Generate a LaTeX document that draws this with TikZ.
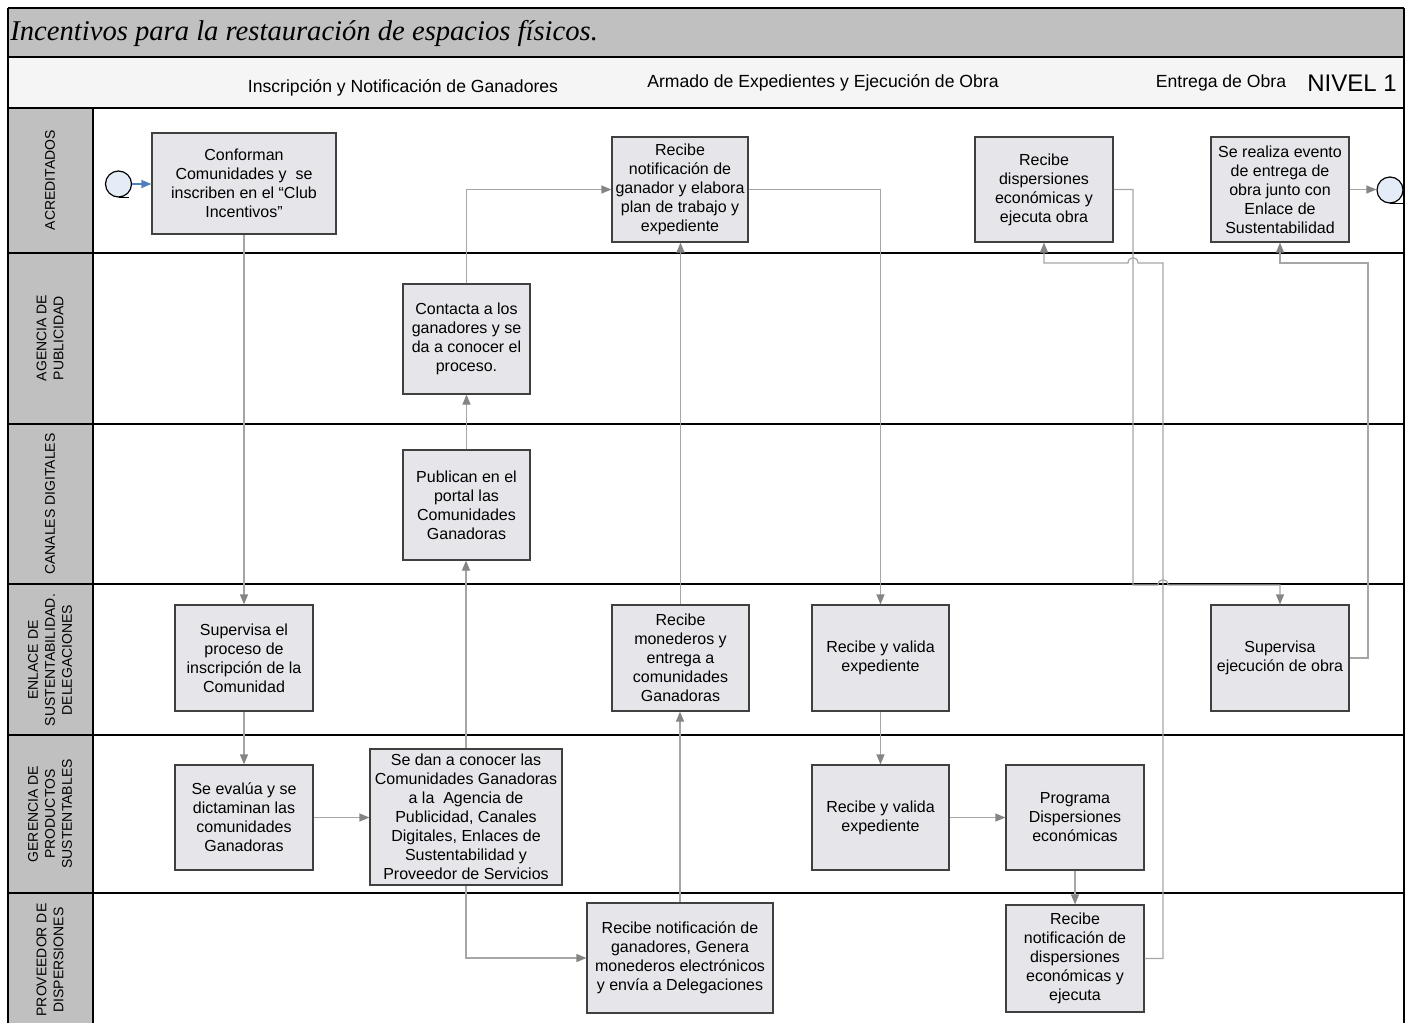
\documentclass[tikz,border=0pt]{standalone}
\usepackage{fontspec}
\setmainfont{Liberation Sans}
\newfontfamily\titlefont{Liberation Serif}
\usetikzlibrary{arrows.meta}
\definecolor{bandgray}{HTML}{C0C0C0}
\definecolor{headfill}{HTML}{F5F5F5}
\definecolor{boxfill}{HTML}{E6E5E9}
\definecolor{boxline}{HTML}{404040}
\definecolor{conngray}{HTML}{A6A6A6}
\definecolor{arrowgray}{HTML}{858585}
\definecolor{circfill}{HTML}{E4ECF7}
\definecolor{flowblue}{HTML}{4F81BD}
\tikzset{
  procbox/.style={draw=boxline, fill=boxfill, line width=0.6pt, align=center,
    inner sep=0.5pt, font=\fontsize{8}{9.5}\selectfont},
  conn/.style={draw=conngray, line width=0.6pt,
    -{Triangle[length=5pt,width=4pt,color=arrowgray]}},
  startarrow/.style={draw=flowblue, line width=0.6pt,
    -{Triangle[length=5pt,width=4pt,color=flowblue]}},
  lanelabel/.style={rotate=90, align=center, font=\fontsize{7}{8.5}\selectfont},
  headtext/.style={font=\fontsize{8.8}{10}\selectfont},
  eventc/.style={circle, draw=black, fill=circfill, line width=0.6pt, minimum size=13pt, inner sep=0pt},
  frameline/.style={draw=black, line width=0.8pt},
}
\begin{document}
\begin{tikzpicture}[x=0.5pt,y=-0.5pt]
\useasboundingbox (0,0) rectangle (1413,1023);
% background bands
\fill[bandgray] (8,8) rectangle (1404,57);
\fill[headfill] (8,57) rectangle (1404,108);
\fill[bandgray] (8,108) rectangle (93,1023);
% lane lines
\draw[frameline] (8,8) -- (1404,8);
\draw[frameline] (8,57) -- (1404,57);
\draw[frameline] (8,108) -- (1404,108);
\foreach \yy in {253,424,584,735,893} {\draw[frameline] (8,\yy) -- (1404,\yy);}
\draw[frameline] (8,8) -- (8,1023);
\draw[frameline] (1404,8) -- (1404,1023);
\draw[frameline] (93,108) -- (93,1023);

% title and headers
\node[anchor=west, inner sep=1pt, font=\titlefont\itshape\fontsize{14.3}{16}\selectfont] (title) at (8,33) {Incentivos para la restauración de espacios físicos.};
\node[headtext] (h1) at (403,88) {Inscripción y Notificación de Ganadores};
\node[headtext] (h2) at (823,83) {Armado de Expedientes y Ejecución de Obra};
\node[headtext] (h3) at (1221,83) {Entrega de Obra};
\node[font=\fontsize{12}{14}\selectfont] (nivel) at (1352,83) {NIVEL 1};

% lane labels
\node[lanelabel] (l1) at (50,180) {ACREDITADOS};
\node[lanelabel] (l2) at (50,338) {AGENCIA DE\\PUBLICIDAD};
\node[lanelabel] (l3) at (50,504) {CANALES DIGITALES};
\node[lanelabel] (l4) at (50,660) {ENLACE DE\\SUSTENTABILIDAD.\\DELEGACIONES};
\node[lanelabel] (l5) at (50,814) {GERENCIA DE\\PRODUCTOS\\SUSTENTABLES};
\node[lanelabel] (l6) at (50,960) {PROVEEDOR DE\\DISPERSIONES};

% events
\node[eventc] (start) at (118.5,184) {};
\draw[black, line width=0.6pt] (start.south) -- ++(10,0);
\node[eventc] (endc) at (1390,190) {};
\draw[black, line width=0.6pt] (endc.south) -- ++(13,0);

% process boxes
\node[procbox, minimum width=92pt, minimum height=50.5pt] (conf) at (244,183.5)
  {Conforman\\Comunidades y\ \ se\\inscriben en el “Club\\Incentivos”};
\node[procbox, minimum width=68pt, minimum height=52.5pt] (rng) at (680,189.5)
  {Recibe\\notificación de\\ganador y elabora\\plan de trabajo y\\expediente};
\node[procbox, minimum width=69pt, minimum height=52.5pt] (rdisp) at (1044,189.5)
  {Recibe\\dispersiones\\económicas y\\ejecuta obra};
\node[procbox, minimum width=69pt, minimum height=52.5pt] (evento) at (1280,189.5)
  {Se realiza evento\\de entrega de\\obra junto con\\Enlace de\\Sustentabilidad};
\node[procbox, minimum width=63.5pt, minimum height=55pt] (contacta) at (466.5,339)
  {Contacta a los\\ganadores y se\\da a conocer el\\proceso.};
\node[procbox, minimum width=63.5pt, minimum height=55pt] (publican) at (466.5,505)
  {Publican en el\\portal las\\Comunidades\\Ganadoras};
\node[procbox, minimum width=69pt, minimum height=53pt] (supproc) at (244,658)
  {Supervisa el\\proceso de\\inscripción de la\\Comunidad};
\node[procbox, minimum width=68.5pt, minimum height=53pt] (monederos) at (680.5,658)
  {Recibe\\monederos y\\entrega a\\comunidades\\Ganadoras};
\node[procbox, minimum width=68.5pt, minimum height=53pt] (valida1) at (880.5,658)
  {Recibe y valida\\expediente};
\node[procbox, minimum width=69pt, minimum height=53pt] (supobra) at (1280,658)
  {Supervisa\\ejecución de obra};
\node[procbox, minimum width=69pt, minimum height=52.5pt] (evalua) at (244,817.5)
  {Se evalúa y se\\dictaminan las\\comunidades\\Ganadoras};
\node[procbox, minimum width=96pt, minimum height=68pt] (dan) at (466,817)
  {Se dan a conocer las\\Comunidades Ganadoras\\a la\ \ Agencia de\\Publicidad, Canales\\Digitales, Enlaces de\\Sustentabilidad y\\Proveedor de Servicios};
\node[procbox, minimum width=68.5pt, minimum height=52.5pt] (valida2) at (880.5,817.5)
  {Recibe y valida\\expediente};
\node[procbox, minimum width=69pt, minimum height=52.5pt] (programa) at (1075,817.5)
  {Programa\\Dispersiones\\económicas};
\node[procbox, minimum width=93pt, minimum height=55pt] (rnotgan) at (680,958)
  {Recibe notificación de\\ganadores, Genera\\monederos electrónicos\\y envía a Delegaciones};
\node[procbox, minimum width=69pt, minimum height=53.5pt] (rnotdisp) at (1075,958.5)
  {Recibe\\notificación de\\dispersiones\\económicas y\\ejecuta};

% bend coordinates
\coordinate (b1) at (1163,263);
\coordinate (b2) at (1133,585);
\coordinate (b3) at (1368,263);

% connectors
\draw[startarrow] (start.east) -- (conf.west |- start.east);
\draw[conn] (conf.south) -- (supproc.north);
\draw[conn] (supproc.south) -- (evalua.north);
\draw[conn] (evalua.east) -- (dan.west |- evalua.east);
\draw[conn] (dan.north) -- (publican.south -| dan.north);
\draw[conn] (publican.north) -- (contacta.south);
\draw[conn] (contacta.north) |- (rng.west);
\draw[conn] (dan.south) |- (rnotgan.west);
\draw[conn] (rnotgan.north) -- (monederos.south -| rnotgan.north);
\draw[conn] (monederos.north) -- (rng.south -| monederos.north);
\draw[conn] (rng.east) -| (valida1.north);
\draw[conn] (valida1.south) -- (valida2.north);
\draw[conn] (valida2.east) -- (programa.west);
\draw[conn] (programa.south) -- (rnotdisp.north);
\draw[conn] (rnotdisp.east) -| (b1) -- (1138,263) .. controls (1138,256) and (1128,256) .. (1128,263) -| (rdisp.south);
\draw[conn] (rdisp.east) -| (b2) -- (1158,585) .. controls (1158,578) and (1168,578) .. (1168,585) -| (supobra.north);
\draw[conn] (supobra.east) -| (b3) -| (evento.south);
\draw[conn] (evento.east) -- (endc.west |- evento.east);
\end{tikzpicture}
\end{document}
